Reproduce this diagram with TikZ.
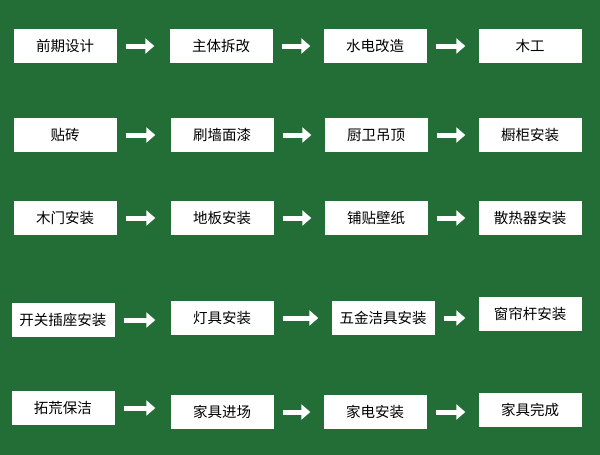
\documentclass[tikz,border=0pt]{standalone}
\usepackage{fontspec}
\setmainfont{Noto Sans CJK SC}
\usetikzlibrary{arrows.meta}
\definecolor{bggreen}{HTML}{236E36}
\tikzset{
  stage/.style={fill=white,minimum width=103pt,minimum height=34pt,inner sep=1pt,font=\fontsize{14.5}{16}\selectfont},
  flow/.style={white,line width=5pt,-{Triangle[length=9pt,width=15pt]}}
}
\begin{document}
\begin{tikzpicture}[x=1pt,y=-1pt]
\fill [bggreen] (0,0) rectangle (600,455);
\useasboundingbox (0,0) rectangle (600,455);
% row 1
\node [stage] (a1) at (65,46) {前期设计};
\node [stage] (a2) at (221,46) {主体拆改};
\node [stage] (a3) at (375,46) {水电改造};
\node [stage] (a4) at (530,46) {木工};
% row 2
\node [stage] (b1) at (65,135) {贴砖};
\node [stage] (b2) at (222,135) {刷墙面漆};
\node [stage] (b3) at (376,135) {厨卫吊顶};
\node [stage] (b4) at (530,135) {橱柜安装};
% row 3
\node [stage] (c1) at (65,218) {木门安装};
\node [stage] (c2) at (222,218) {地板安装};
\node [stage] (c3) at (376,218) {铺贴壁纸};
\node [stage] (c4) at (530,218) {散热器安装};
% row 4
\node [stage] (d1) at (63,320) {开关插座安装};
\node [stage] (d2) at (222,318) {灯具安装};
\node [stage] (d3) at (383,318) {五金洁具安装};
\node [stage] (d4) at (530,314) {窗帘杆安装};
% row 5
\node [stage] (e1) at (63,408) {拓荒保洁};
\node [stage] (e2) at (222,412) {家具进场};
\node [stage] (e3) at (375,412) {家电安装};
\node [stage] (e4) at (530,410) {家具完成};
\foreach \r in {a,b,c,d,e}{
  \draw [flow] ([xshift=9pt]\r1.east) -- ([xshift=-15pt]\r2.west |- \r1.east);
  \draw [flow] ([xshift=9pt]\r2.east) -- ([xshift=-13pt]\r3.west |- \r2.east);
  \draw [flow] ([xshift=9pt]\r3.east) -- ([xshift=-13pt]\r4.west |- \r3.east);
}
\end{tikzpicture}
\end{document}
